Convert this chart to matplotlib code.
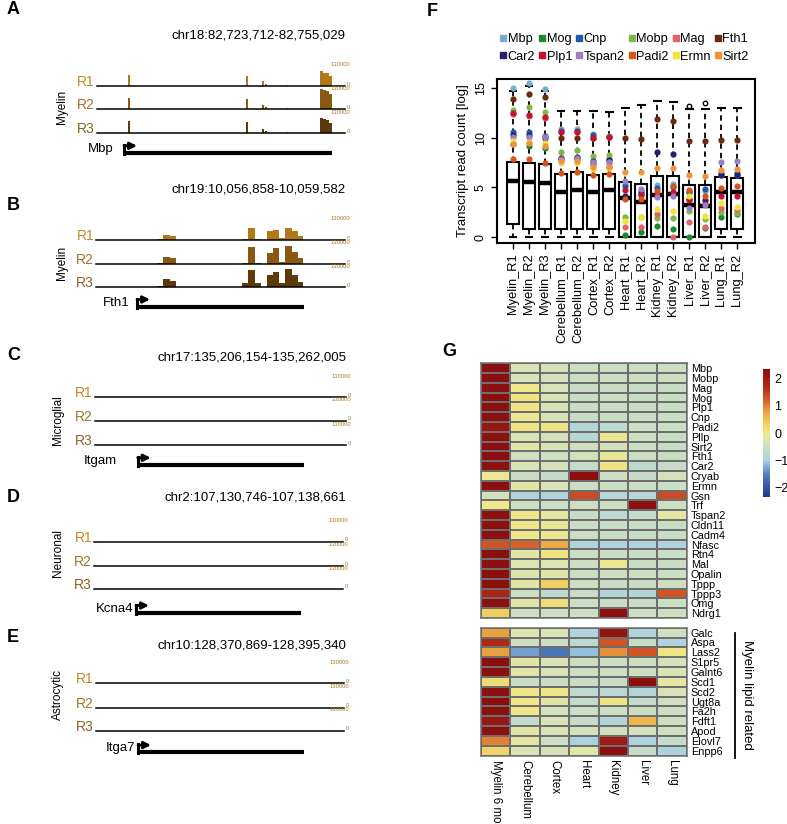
import numpy as np
import matplotlib
matplotlib.use("Agg")
import matplotlib.pyplot as plt
from matplotlib.colors import LinearSegmentedColormap, Normalize
from matplotlib.lines import Line2D

plt.rcParams['font.family'] = ['Liberation Sans', 'DejaVu Sans']

# ------------------------------------------------------------------ data
# genome-browser panels
track_regions = ["chr18:82,723,712-82,755,029", "chr19:10,056,858-10,059,582",
                 "chr17:135,206,154-135,262,005", "chr2:107,130,746-107,138,661",
                 "chr10:128,370,869-128,395,340"]
track_lengths = [31317, 2724, 55851, 7915, 24471]
track_celltypes = ["Myelin", "Myelin", "Microglial", "Neuronal", "Astrocytic"]
track_genes = ["Mbp", "Fth1", "Itgam", "Kcna4", "Itga7"]
gene_starts = [3410, 449, 9500, 1335, 4170]
gene_ends = [29680, 2276, 46510, 6573, 20540]
replicates = ["R1", "R2", "R3"]
track_scale = 130000

mbp_edges = [0, 3880, 4130, 18870, 19060, 20820, 21040, 21200, 21420, 23970, 24140,
             28163, 28541, 28920, 29299, 29678, 31317]
mbp_R1 = [0, 74000, 0, 68000, 0, 31000, 0, 12000, 0, 9000, 0, 95000, 82000, 87000, 68000, 0]
mbp_R2 = [0, 76000, 0, 68000, 0, 31000, 0, 12000, 0, 9000, 0, 130000, 124000, 116000, 99000, 0]
mbp_R3 = [0, 80000, 0, 72000, 0, 31000, 0, 12000, 0, 9000, 0, 99000, 93000, 87000, 66000, 0]

fth1_edges = [0, 671, 736, 810, 875, 1601, 1666, 1739, 1802, 1867, 1940, 2005, 2068,
              2141, 2207, 2268, 2724]
fth1_R1 = [0, 8500, 32500, 26000, 0, 9750, 76000, 9750, 0, 58500, 65000, 13000, 76000, 58500, 26000, 0]
fth1_R2 = [0, 6500, 47500, 37000, 0, 9750, 112500, 9750, 0, 73500, 102000, 13000, 119000, 80000, 37000, 0]
fth1_R3 = [0, 6500, 52000, 41000, 0, 26000, 112500, 26000, 0, 80000, 97500, 26000, 119000, 80000, 37000, 0]

# panel F boxplot
samples = ["Myelin_R1", "Myelin_R2", "Myelin_R3", "Cerebellum_R1", "Cerebellum_R2",
           "Cortex_R1", "Cortex_R2", "Heart_R1", "Heart_R2", "Kidney_R1", "Kidney_R2",
           "Liver_R1", "Liver_R2", "Lung_R1", "Lung_R2"]
box_q1 = [1.3, 0.8, 0.8, 0.8, 0.8, 0.8, 0.8, 0.0, 0.0, 0.0, 0.0, 0.0, 0.0, 0.8, 0.8]
box_med = [5.6, 5.5, 5.4, 4.5, 4.7, 4.5, 4.7, 3.9, 3.5, 4.2, 4.3, 3.2, 3.1, 4.5, 4.5]
box_q3 = [7.5, 7.4, 7.3, 6.3, 6.5, 6.2, 6.3, 5.5, 5.3, 6.1, 6.1, 5.2, 5.2, 6.0, 5.9]
box_lo = [0.0] * 15
box_hi = [14.7, 15.2, 14.7, 12.7, 12.7, 12.7, 12.6, 13.0, 13.3, 13.7, 13.6, 12.9, 12.85, 13.0, 13.0]
box_fliers = [[], [], [], [], [], [], [], [], [], [], [], [13.15], [13.5], [], []]

gene_names = ["Mbp", "Mog", "Cnp", "Mobp", "Mag", "Fth1",
              "Car2", "Plp1", "Tspan2", "Padi2", "Ermn", "Sirt2"]
gene_colors = ["#74add1", "#1b8a2c", "#1f5aa6", "#7bbb45", "#e0626a", "#6b2a0e",
               "#2a1e6e", "#c8102e", "#9b7fc4", "#d9541a", "#f2e33a", "#f0933a"]
pts_Mbp = [15.0, 15.5, 14.9, 10.9, 10.9, 10.4, 10.2, 5.3, 4.7, 5.2, 5.3, 4.5, 4.6, 6.2, 6.2]
pts_Mog = [9.4, 9.2, 9.0, 7.9, 8.0, 7.3, 7.0, 0.2, 0.5, 1.1, 0.8, 0.0, 0.9, 2.0, 2.3]
pts_Cnp = [10.6, 10.6, 10.2, 10.7, 10.7, 10.3, 7.9, 5.1, 4.5, 4.9, 5.0, 4.5, 4.8, 6.4, 6.4]
pts_Mobp = [12.75, 13.1, 12.6, 8.6, 8.8, 8.2, 8.3, 2.0, 2.0, 1.95, 1.95, 2.6, 1.8, 2.5, 2.45]
pts_Mag = [12.4, 12.2, 12.0, 7.8, 7.9, 7.3, 7.4, 1.0, 1.0, 2.3, 0.0, 1.55, 1.0, 2.9, 2.7]
pts_Fth1 = [13.9, 14.4, 14.1, 10.0, 10.0, 10.0, 10.1, 10.0, 9.9, 11.85, 11.7, 9.7, 9.7, 9.8, 9.8]
pts_Car2 = [10.3, 10.3, 10.0, 7.95, 8.05, 7.6, 7.8, 4.1, 4.3, 8.6, 8.4, 3.8, 3.7, 6.2, 6.2]
pts_Plp1 = [12.5, 12.3, 12.1, 10.6, 10.6, 10.0, 10.1, 4.7, 4.2, 4.3, 4.5, 3.7, 3.3, 4.1, 4.1]
pts_Tspan2 = [10.1, 10.1, 10.1, 7.9, 8.0, 7.5, 7.5, 5.6, 4.8, 4.0, 4.1, 2.9, 3.2, 7.5, 7.6]
pts_Padi2 = [7.85, 7.85, 7.45, 6.4, 6.5, 6.2, 6.3, 3.8, 3.8, 4.6, 5.1, 4.7, 4.1, 4.9, 5.1]
pts_Ermn = [9.7, 9.6, 9.5, 7.4, 7.45, 6.85, 6.9, 1.6, 2.0, 2.8, 2.6, 4.1, 2.1, 3.4, 3.05]
pts_Sirt2 = [9.4, 9.5, 9.2, 7.6, 7.6, 7.0, 7.0, 6.5, 6.5, 6.9, 6.9, 6.25, 6.1, 6.75, 6.8]
gene_points = [pts_Mbp, pts_Mog, pts_Cnp, pts_Mobp, pts_Mag, pts_Fth1,
               pts_Car2, pts_Plp1, pts_Tspan2, pts_Padi2, pts_Ermn, pts_Sirt2]

# panel G heatmap
tissues = ["Myelin 6 mo", "Cerebellum", "Cortex", "Heart", "Kidney", "Liver", "Lung"]
genes_top = ["Mbp", "Mobp", "Mag", "Mog", "Plp1", "Cnp", "Padi2", "Pllp", "Sirt2", "Fth1",
             "Car2", "Cryab", "Ermn", "Gsn", "Trf", "Tspan2", "Cldn11", "Cadm4", "Nfasc",
             "Rtn4", "Mal", "Opalin", "Tppp", "Tppp3", "Omg", "Ndrg1"]
z_top = [
    [2.3, -0.3, -0.35, -0.5, -0.5, -0.5, -0.5],
    [2.3, -0.3, -0.4, -0.5, -0.5, -0.5, -0.5],
    [2.3, 0.0, -0.3, -0.55, -0.55, -0.55, -0.55],
    [2.3, 0.05, -0.3, -0.55, -0.5, -0.55, -0.55],
    [2.3, 0.05, -0.3, -0.55, -0.55, -0.55, -0.55],
    [2.3, -0.05, -0.3, -0.55, -0.55, -0.55, -0.55],
    [2.1, 0.05, 0.05, -0.85, -0.7, -0.5, -0.5],
    [2.3, -0.3, -0.35, -0.8, -0.05, -0.5, -0.55],
    [2.3, -0.2, -0.3, -0.45, -0.4, -0.5, -0.6],
    [2.3, -0.45, -0.45, -0.4, -0.1, -0.5, -0.55],
    [2.25, -0.3, -0.35, -0.6, 0.05, -0.7, -0.6],
    [-0.05, -0.55, -0.6, 2.3, -0.5, -0.6, -0.35],
    [2.3, -0.2, -0.3, -0.5, -0.5, -0.5, -0.5],
    [-0.35, -0.9, -0.9, 1.4, -0.8, -0.8, 1.4],
    [0.0, -0.5, -0.5, -0.5, -0.5, 2.3, -0.5],
    [2.3, 0.0, -0.15, -0.6, -0.7, -0.65, -0.15],
    [2.3, 0.0, -0.05, -0.55, -0.55, -0.55, -0.55],
    [2.3, 0.0, -0.05, -0.5, -0.55, -0.55, -0.55],
    [1.3, 1.2, 0.7, -0.9, -0.9, -0.9, -0.9],
    [2.3, -0.2, 0.1, -0.5, -0.55, -0.55, -0.5],
    [2.3, -0.25, -0.25, -0.5, -0.05, -0.55, -0.55],
    [2.3, -0.25, -0.2, -0.5, -0.5, -0.5, -0.5],
    [2.3, -0.2, 0.35, -0.5, -0.55, -0.55, -0.5],
    [1.8, -0.5, -0.7, -0.55, -0.85, -0.85, 1.3],
    [2.3, -0.2, 0.15, -0.5, -0.55, -0.55, -0.5],
    [0.4, -0.5, -0.5, -0.5, 2.3, -0.5, -0.5],
]
genes_lipid = ["Galc", "Aspa", "Lass2", "S1pr5", "Galnt6", "Scd1", "Scd2", "Ugt8a",
               "Fa2h", "Fdft1", "Apod", "Elovl7", "Enpp6"]
z_lipid = [
    [0.8, -0.25, -0.3, -0.9, 2.2, -0.9, -0.45],
    [1.7, -0.5, -0.5, -0.7, 1.3, -0.55, -0.9],
    [0.8, -1.3, -1.6, -1.1, 0.9, 1.3, 0.05],
    [2.3, -0.2, -0.3, -0.5, -0.5, -0.5, -0.35],
    [2.3, -0.2, -0.3, -0.5, -0.5, -0.5, -0.3],
    [0.2, -0.55, -0.55, -0.55, -0.55, 2.3, -0.15],
    [2.3, 0.05, 0.05, -0.7, -0.75, -0.85, -0.3],
    [2.3, 0.0, -0.2, -0.6, 0.05, -0.65, -0.45],
    [2.3, 0.0, -0.4, -0.5, -0.5, -0.55, -0.5],
    [2.1, -0.65, -0.3, -0.6, -0.85, 0.6, -0.5],
    [2.3, -0.2, -0.3, -0.4, -0.45, -0.4, -0.45],
    [1.0, -0.15, -0.5, -0.95, 2.0, -0.95, -0.6],
    [0.3, -0.3, -0.35, -0.2, 2.3, -0.6, -0.95],
]
cbar_ticks = [-2, -1, 0, 1, 2]

# ------------------------------------------------------------------ figure
W, H = 787, 824
fig = plt.figure(figsize=(W / 100, H / 100), dpi=100)


def px_axes(x0, y0, x1, y1):
    return fig.add_axes([x0 / W, 1 - y1 / H, (x1 - x0) / W, (y1 - y0) / H])


def ftext(x, y, s, **kw):
    return fig.text(x / W, 1 - y / H, s, **kw)


# ------------------------------------------------------------------ A-E tracks
panel_letters = ["A", "B", "C", "D", "E"]
letter_y = [10, 205, 356, 498, 637]
title_y = [36, 190, 357, 498, 645]
baselines = [[86, 109.3, 133.3], [240, 264, 287.3], [397.3, 420.7, 445],
             [541.7, 566, 589], [683.3, 707.7, 730.7]]
track_x = [(97, 345), (96, 345), (95, 346), (94, 343), (95.7, 344)]
gene_y = [153, 306.7, 465, 612.7, 752.3]
gene_label_x = [113, 130, 117, 133, 135]
vlabel_pos = [(62, 107), (62, 263), (58, 420), (58, 553), (58, 695)]

signal = {0: (mbp_edges, [mbp_R1, mbp_R2, mbp_R3]),
          1: (fth1_edges, [fth1_R1, fth1_R2, fth1_R3])}
rep_fill = ["#b07818", "#8a5a12", "#5e3a0a"]
rep_label = ["#c08a22", "#a27424", "#8a6224"]
scale_col = "#a9792a"

for p in range(5):
    x0, x1 = track_x[p]
    L = track_lengths[p]
    ftext(7, letter_y[p], panel_letters[p], fontsize=13, fontweight='bold', va='center', ha='left')
    ftext(346, title_y[p], track_regions[p], fontsize=9.5, ha='right', va='center')
    vx, vy = vlabel_pos[p]
    ftext(vx, vy, track_celltypes[p], fontsize=8.5, rotation=90, ha='center', va='center')
    for r in range(3):
        b = baselines[p][r]
        ax = px_axes(x0, b - 20, x1, b)
        ax.set_xlim(0, L)
        ax.set_ylim(0, track_scale)
        ax.axis('off')
        if p in signal:
            edges, reps = signal[p]
            ax.stairs(reps[r], edges, fill=True, color=rep_fill[r], lw=0)
        ax.axhline(0, color='black', lw=1.1, clip_on=False)
        ftext(x0 - 2, b - 4, replicates[r], fontsize=10, color=rep_label[r], ha='right', va='center')
        ftext(x1 + 5, b - 21, str(track_scale), fontsize=4.2, color=scale_col, ha='right', va='center')
        ftext(x1 + 5, b - 2, "0", fontsize=4.2, color=scale_col, ha='right', va='center')
    # gene model
    gy = gene_y[p]
    gax = px_axes(x0, gy - 12, x1, gy + 3)
    gax.set_xlim(0, L)
    gax.set_ylim(0, 15)
    gax.axis('off')
    bp_per_px = L / (x1 - x0)
    gax.plot([gene_starts[p], gene_ends[p]], [3, 3], color='black', lw=3.0, solid_capstyle='butt')
    gax.plot([gene_starts[p], gene_starts[p]], [2, 11], color='black', lw=2.2)
    gax.annotate('', xy=(gene_starts[p] + 13 * bp_per_px, 10.2), xytext=(gene_starts[p], 10.2),
                 arrowprops=dict(arrowstyle='-|>', color='black', lw=2.0, mutation_scale=10,
                                 shrinkA=0, shrinkB=0))
    ftext(gene_label_x[p], gy - 4, track_genes[p], fontsize=9.5, ha='right', va='center')

# ------------------------------------------------------------------ F boxplot
ftext(427, 12, "F", fontsize=13, fontweight='bold', va='center', ha='left')
axF = px_axes(497, 79, 755, 243)
stats = []
for i in range(len(samples)):
    stats.append(dict(med=box_med[i], q1=box_q1[i], q3=box_q3[i], whislo=box_lo[i],
                      whishi=box_hi[i], fliers=box_fliers[i]))
pos = np.arange(len(samples))
axF.bxp(stats, positions=pos, widths=0.74, patch_artist=True, showfliers=True,
        boxprops=dict(facecolor='white', edgecolor='black', lw=1.5),
        medianprops=dict(color='black', lw=3.2, solid_capstyle='butt'),
        whiskerprops=dict(color='black', lw=1.3, ls=(0, (3, 2.2))),
        capprops=dict(color='black', lw=1.5), capwidths=0.42,
        flierprops=dict(marker='o', mfc='none', mec='black', ms=3.2, mew=1.0))
for gi in range(len(gene_names)):
    axF.scatter(pos, gene_points[gi], s=20, color=gene_colors[gi], zorder=5, lw=0)
axF.set_xlim(-1.0, 15.1)
axF.set_ylim(-0.6, 15.9)
axF.set_yticks([0, 5, 10, 15])
axF.set_yticklabels(["0", "5", "10", "15"], rotation=90, va='center', fontsize=9)
axF.set_xticks(pos)
axF.set_xticklabels(samples, rotation=90, fontsize=9.3)
axF.tick_params(axis='both', direction='out', length=4, width=1.0)
for s in axF.spines.values():
    s.set_linewidth(1.5)
axF.set_ylabel("Transcript read count [log]", fontsize=9.5, labelpad=4)

handles = [Line2D([], [], marker='s', ls='none', color=c, ms=4.0) for c in gene_colors]
order = [0, 6, 1, 7, 2, 8, 3, 9, 4, 10, 5, 11]
fig.legend([handles[i] for i in order], [gene_names[i] for i in order], ncol=6,
           loc='upper left', bbox_to_anchor=(500 / W, 1 - 33 / H), frameon=False,
           fontsize=9.2, handlelength=0.5, handletextpad=0.1, columnspacing=0.3,
           labelspacing=0.45, borderpad=0, borderaxespad=0)

# ------------------------------------------------------------------ G heatmap
ftext(442, 352, "G", fontsize=13, fontweight='bold', va='center', ha='left')
vmin, vmax = -2.33, 2.33
cm_vals = [-2.33, -1.5, -1.0, -0.6, -0.3, 0.0, 0.4, 0.8, 1.2, 1.7, 2.33]
cm_cols = ['#23368f', '#4f80bf', '#a9d0e2', '#c6dcc8', '#d9e4b6', '#efe88a',
           '#f0cd5c', '#e9a040', '#d9602a', '#b02818', '#8a0f0f']
cmap = LinearSegmentedColormap.from_list(
    'hm', [((v - vmin) / (vmax - vmin), c) for v, c in zip(cm_vals, cm_cols)])
norm = Normalize(vmin, vmax)


def heat(ax, z, rows):
    z = np.array(z)
    m = ax.pcolormesh(np.arange(z.shape[1] + 1), np.arange(z.shape[0] + 1), z, cmap=cmap,
                      norm=norm, edgecolors='#6e6e6e', linewidth=1.1)
    ax.set_xlim(0, z.shape[1])
    ax.set_ylim(z.shape[0], 0)
    ax.yaxis.tick_right()
    ax.set_yticks(np.arange(z.shape[0]) + 0.5)
    ax.set_yticklabels(rows, fontsize=7.8, family=['Liberation Sans Narrow', 'Liberation Sans'])
    ax.tick_params(axis='y', length=0, pad=3)
    for s in ax.spines.values():
        s.set_edgecolor('#6e6e6e')
        s.set_linewidth(1.1)
    return m


axG1 = px_axes(481, 363.3, 686.7, 618)
m = heat(axG1, z_top, genes_top)
axG1.set_xticks([])
axG2 = px_axes(481, 627.7, 686.7, 755.7)
heat(axG2, z_lipid, genes_lipid)
axG2.set_xticks(np.arange(len(tissues)) + 0.5)
axG2.set_xticklabels(tissues, rotation=270, fontsize=8.3, va='top', ha='center')
axG2.tick_params(axis='x', length=0, pad=3)

cax = px_axes(763, 369, 770, 497)
cb = fig.colorbar(m, cax=cax, ticks=cbar_ticks)
cb.outline.set_visible(False)
cax.tick_params(length=0, labelsize=9, pad=3)

fig.add_artist(Line2D([735 / W, 735 / W], [1 - 632.7 / H, 1 - 758.3 / H], color='black', lw=1.3))
ftext(747, 695, "Myelin lipid related", fontsize=9.5, rotation=270, ha='center', va='center')

fig.savefig("out.png", dpi=100)
